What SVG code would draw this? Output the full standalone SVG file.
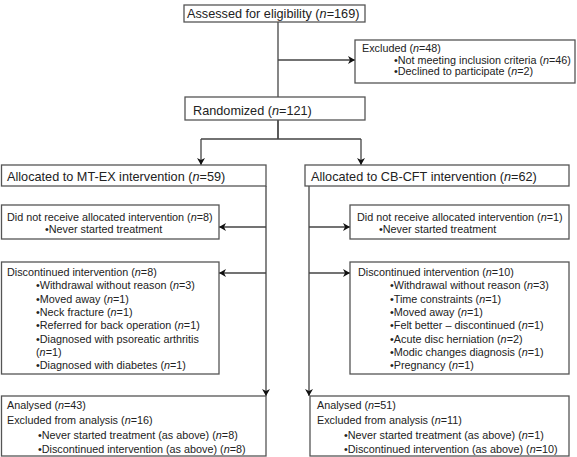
<svg xmlns="http://www.w3.org/2000/svg" width="577" height="457" viewBox="0 0 577 457">
<defs>
<marker id="arr" markerWidth="10" markerHeight="10" refX="8" refY="5" orient="auto" markerUnits="userSpaceOnUse">
<path d="M1,1 L8,5 L1,9 L3,5 Z" fill="#111"/>
</marker>
<style>
rect{fill:#fff;stroke:#555;stroke-width:1.3}
.c{fill:none;stroke:#444;stroke-width:1.3}
.a{marker-end:url(#arr)}
text{font-family:"Liberation Sans",Arial,sans-serif;fill:#222}
.l{font-size:12.7px}
.s{font-size:10.8px}
</style>
</defs>
<g id="connectors">
<path class="c" d="M278,22 V139"/>
<path class="c a" d="M278,60 H355"/>
<path class="c" d="M278,120 V139 M201,139 H361"/>
<path class="c a" d="M201,139 V165"/>
<path class="c a" d="M361,139 V165"/>
<path class="c a" d="M266,186 V396"/>
<path class="c a" d="M266,227 H219"/>
<path class="c a" d="M266,273 H219"/>
<path class="c a" d="M309,186 V396"/>
<path class="c a" d="M309,227 H350"/>
<path class="c a" d="M309,273 H350"/>
</g>
<g id="assessed">
<rect x="184" y="5" width="181" height="17"/>
<text class="l" x="187" y="18">Assessed for eligibility (<tspan font-style="italic">n</tspan>=169)</text>
</g>
<g id="excluded">
<rect x="355" y="40" width="220" height="43"/>
<text class="s" x="362" y="51.5">Excluded (<tspan font-style="italic">n</tspan>=48)</text>
<text class="s" x="394" y="63.5">•Not meeting inclusion criteria (<tspan font-style="italic">n</tspan>=46)</text>
<text class="s" x="394" y="74.5">•Declined to participate (<tspan font-style="italic">n</tspan>=2)</text>
</g>
<g id="randomized">
<rect x="185" y="97" width="180" height="23"/>
<text class="l" x="193" y="115">Randomized (<tspan font-style="italic">n</tspan>=121)</text>
</g>
<g id="alloc-mtex">
<rect x="1.5" y="165" width="264.5" height="21"/>
<text class="l" x="7" y="180.5">Allocated to MT-EX intervention (<tspan font-style="italic">n</tspan>=59)</text>
</g>
<g id="alloc-cbcft">
<rect x="305" y="165" width="264" height="21"/>
<text class="l" x="311" y="180.5">Allocated to CB-CFT intervention (<tspan font-style="italic">n</tspan>=62)</text>
</g>
<g id="notrecv-mtex">
<rect x="1.5" y="205" width="217.5" height="34"/>
<text class="s" x="7" y="220.5">Did not receive allocated intervention (<tspan font-style="italic">n</tspan>=8)</text>
<text class="s" x="45" y="233">•Never started treatment</text>
</g>
<g id="notrecv-cbcft">
<rect x="350" y="205" width="219" height="34"/>
<text class="s" x="357" y="220.5">Did not receive allocated intervention (<tspan font-style="italic">n</tspan>=1)</text>
<text class="s" x="379" y="233">•Never started treatment</text>
</g>
<g id="disc-mtex">
<rect x="1.5" y="262" width="217.5" height="112"/>
<text class="s" x="7" y="276">Discontinued intervention (<tspan font-style="italic">n</tspan>=8)</text>
<text class="s" x="36" y="289.3">•Withdrawal without reason (<tspan font-style="italic">n</tspan>=3)</text>
<text class="s" x="36" y="302.6">•Moved away (<tspan font-style="italic">n</tspan>=1)</text>
<text class="s" x="36" y="315.9">•Neck fracture (<tspan font-style="italic">n</tspan>=1)</text>
<text class="s" x="36" y="329.2">•Referred for back operation (<tspan font-style="italic">n</tspan>=1)</text>
<text class="s" x="36" y="342.5">•Diagnosed with psoreatic arthritis</text>
<text class="s" x="36" y="355.8">(<tspan font-style="italic">n</tspan>=1)</text>
<text class="s" x="36" y="369.1">•Diagnosed with diabetes (<tspan font-style="italic">n</tspan>=1)</text>
</g>
<g id="disc-cbcft">
<rect x="350" y="262" width="219" height="112"/>
<text class="s" x="358" y="276">Discontinued intervention (<tspan font-style="italic">n</tspan>=10)</text>
<text class="s" x="390" y="289.3">•Withdrawal without reason (<tspan font-style="italic">n</tspan>=3)</text>
<text class="s" x="390" y="302.6">•Time constraints (<tspan font-style="italic">n</tspan>=1)</text>
<text class="s" x="390" y="315.9">•Moved away (<tspan font-style="italic">n</tspan>=1)</text>
<text class="s" x="390" y="329.2">•Felt better – discontinued (<tspan font-style="italic">n</tspan>=1)</text>
<text class="s" x="390" y="342.5">•Acute disc herniation (<tspan font-style="italic">n</tspan>=2)</text>
<text class="s" x="390" y="355.8">•Modic changes diagnosis (<tspan font-style="italic">n</tspan>=1)</text>
<text class="s" x="390" y="369.1">•Pregnancy (<tspan font-style="italic">n</tspan>=1)</text>
</g>
<g id="analysed-mtex">
<rect x="1.5" y="396" width="264.5" height="60"/>
<text class="s" x="7" y="409">Analysed (<tspan font-style="italic">n</tspan>=43)</text>
<text class="s" x="7" y="424">Excluded from analysis (<tspan font-style="italic">n</tspan>=16)</text>
<text class="s" x="38" y="438.5">•Never started treatment (as above) (<tspan font-style="italic">n</tspan>=8)</text>
<text class="s" x="38" y="453">•Discontinued intervention (as above) (<tspan font-style="italic">n</tspan>=8)</text>
</g>
<g id="analysed-cbcft">
<rect x="310" y="396" width="259" height="60"/>
<text class="s" x="317" y="409">Analysed (<tspan font-style="italic">n</tspan>=51)</text>
<text class="s" x="317" y="424">Excluded from analysis (<tspan font-style="italic">n</tspan>=11)</text>
<text class="s" x="344" y="438.5">•Never started treatment (as above) (<tspan font-style="italic">n</tspan>=1)</text>
<text class="s" x="344" y="453">•Discontinued intervention (as above) (<tspan font-style="italic">n</tspan>=10)</text>
</g>
</svg>
